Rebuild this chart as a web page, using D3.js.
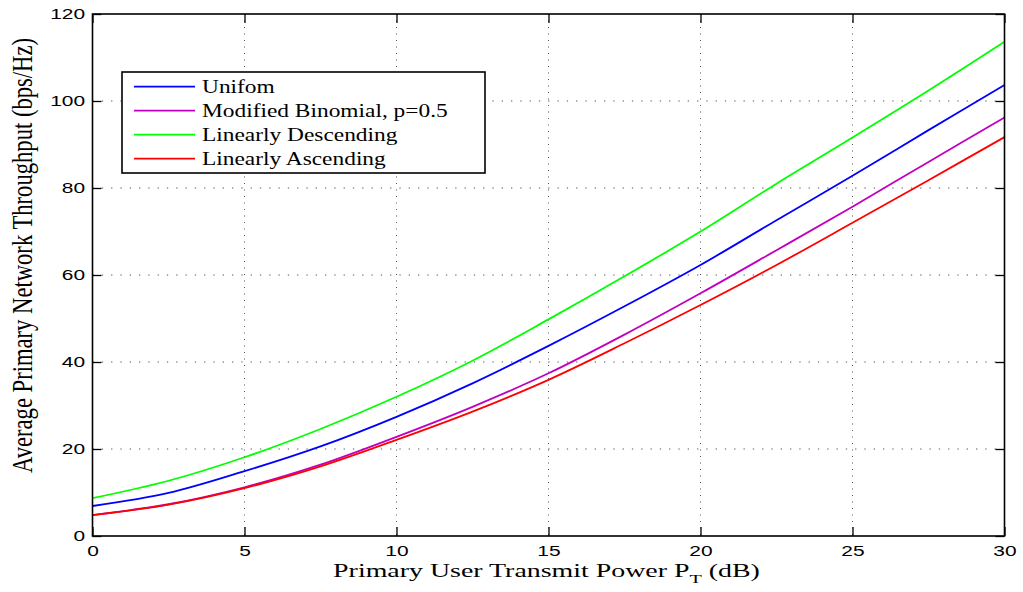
<!DOCTYPE html>
<html>
<head>
<meta charset="utf-8">
<script src="https://cdn.jsdelivr.net/npm/d3@7"></script>
<style>
  body { margin: 0; background: #fff; }
  svg { display: block; }
</style>
</head>
<body>
<div id="chart"></div>
<script>
// chart data
var powerDb = [0, 2.5, 5, 7.5, 10, 12.5, 15, 17.5, 20, 22.5, 25, 27.5, 30];
var uniform = [6.9, 9.9, 14.9, 20.6, 27.4, 35.1, 43.7, 52.8, 62.3, 72.6, 82.8, 93.3, 103.7];
var modBinomial = [4.8, 7.3, 11.2, 16.4, 22.8, 29.7, 37.4, 46.3, 55.8, 65.7, 75.7, 86.0, 96.2];
var linDescending = [8.7, 12.7, 18.1, 24.6, 32.0, 40.3, 49.8, 59.7, 70.0, 81.0, 91.6, 102.4, 113.6];
var linAscending = [4.8, 7.2, 11.0, 16.0, 22.1, 28.6, 35.9, 44.3, 53.1, 62.3, 72.0, 81.8, 91.7];
var seriesNames = ["Unifom", "Modified Binomial, p=0.5", "Linearly Descending", "Linearly Ascending"];
var seriesColors = ["#0000ff", "#c000c0", "#00ff00", "#ff0000"];
var xTicks = [0, 5, 10, 15, 20, 25, 30];
var yTicks = [0, 20, 40, 60, 80, 100, 120];

var allSeries = [uniform, modBinomial, linDescending, linAscending];

// dimensions
var W = 1023, H = 592;
var margin = { top: 14, right: 18.5, bottom: 56, left: 92.5 },
    width = W - margin.left - margin.right,
    height = H - margin.top - margin.bottom;

// the picture is stretched sideways, so text is too
var sx = 1.35;

var root = d3.select("#chart")
    .append("svg")
    .attr("width", W)
    .attr("height", H);

var svg = root.append("g")
    .attr("transform", "translate(" + margin.left + "," + margin.top + ")");

var x = d3.scaleLinear().domain([0, 30]).range([0, width]);
var y = d3.scaleLinear().domain([0, 120]).range([height, 0]);

// dotted grid
svg.append("g")
    .selectAll("line")
    .data(xTicks.slice(1, -1))
    .enter()
    .append("line")
    .attr("x1", function (d) { return x(d); })
    .attr("x2", function (d) { return x(d); })
    .attr("y1", 0)
    .attr("y2", height)
    .style("stroke", "#555")
    .style("stroke-width", 1)
    .style("stroke-dasharray", "1,5.5");

svg.append("g")
    .selectAll("line")
    .data(yTicks.slice(1, -1))
    .enter()
    .append("line")
    .attr("x1", 0)
    .attr("x2", width)
    .attr("y1", function (d) { return y(d); })
    .attr("y2", function (d) { return y(d); })
    .style("stroke", "#555")
    .style("stroke-width", 1)
    .style("stroke-dasharray", "1.3,8");

// axes, ticks pointing inward on all four sides
function styleAxis(g) {
    g.select(".domain").remove();
    g.selectAll("line").style("stroke", "#000").style("stroke-width", 1.3);
    g.selectAll("text")
        .style("font-family", "'Liberation Sans', Arial, sans-serif")
        .style("font-size", "15.5px")
        .style("fill", "#000");
}

svg.append("g")
    .attr("transform", "translate(0," + height + ")")
    .call(d3.axisBottom(x).tickValues(xTicks).tickSize(-9).tickSizeOuter(0).tickPadding(9))
    .call(styleAxis)
    .selectAll("text").attr("transform", "scale(" + sx + ",1)");

svg.append("g")
    .call(d3.axisLeft(y).tickValues(yTicks).tickSize(-9).tickSizeOuter(0).tickPadding(5.5))
    .call(styleAxis)
    .selectAll("text").attr("transform", "scale(" + sx + ",1)");

svg.append("g")
    .call(d3.axisTop(x).tickValues(xTicks).tickSize(-9).tickSizeOuter(0).tickFormat(""))
    .call(styleAxis);

svg.append("g")
    .attr("transform", "translate(" + width + ",0)")
    .call(d3.axisRight(y).tickValues(yTicks).tickSize(-9).tickSizeOuter(0).tickFormat(""))
    .call(styleAxis);

// curves
var line = d3.line()
    .x(function (d, i) { return x(powerDb[i]); })
    .y(function (d) { return y(d); })
    .curve(d3.curveCatmullRom.alpha(0.5));

svg.append("g")
    .selectAll("path")
    .data(allSeries)
    .enter()
    .append("path")
    .attr("d", line)
    .style("fill", "none")
    .style("stroke", function (d, i) { return seriesColors[i]; })
    .style("stroke-width", 1.8);

// frame
svg.append("rect")
    .attr("width", width)
    .attr("height", height)
    .style("fill", "none")
    .style("stroke", "#000")
    .style("stroke-width", 1.6);

// legend
var legend = svg.append("g")
    .attr("transform", "translate(" + (122 - margin.left) + "," + (72 - margin.top) + ")");

legend.append("rect")
    .attr("width", 363)
    .attr("height", 101)
    .style("fill", "#fff")
    .style("stroke", "#000")
    .style("stroke-width", 1.6);

var items = legend.selectAll(".item")
    .data(seriesNames)
    .enter()
    .append("g")
    .attr("class", "item")
    .attr("transform", function (d, i) { return "translate(0," + (14.7 + i * 24) + ")"; });

items.append("line")
    .attr("x1", 12)
    .attr("x2", 73)
    .style("stroke", function (d, i) { return seriesColors[i]; })
    .style("stroke-width", 1.8);

items.append("text")
    .attr("transform", "translate(80,6) scale(1.3,1)")
    .style("font-family", "'Liberation Serif', 'Times New Roman', serif")
    .style("font-size", "18px")
    .text(function (d) { return d; });

// axis labels
var xLabel = root.append("text")
    .attr("transform", "translate(" + (margin.left + width / 2 - 2) + ",577) scale(1.55,1)")
    .style("text-anchor", "middle")
    .style("font-family", "'Liberation Serif', 'Times New Roman', serif")
    .style("font-size", "18px");
xLabel.append("tspan").text("Primary User Transmit Power P");
xLabel.append("tspan").attr("dy", 6).style("font-size", "13px").text("T");
xLabel.append("tspan").attr("dy", -6).text(" (dB)");

root.append("text")
    .attr("transform", "translate(32,255.5) scale(1.42,1) rotate(-90)")
    .style("text-anchor", "middle")
    .style("font-family", "'Liberation Serif', 'Times New Roman', serif")
    .style("font-size", "21px")
    .attr("textLength", 435)
    .attr("lengthAdjust", "spacingAndGlyphs")
    .text("Average Primary Network Throughput (bps/Hz)");
</script>
</body>
</html>
